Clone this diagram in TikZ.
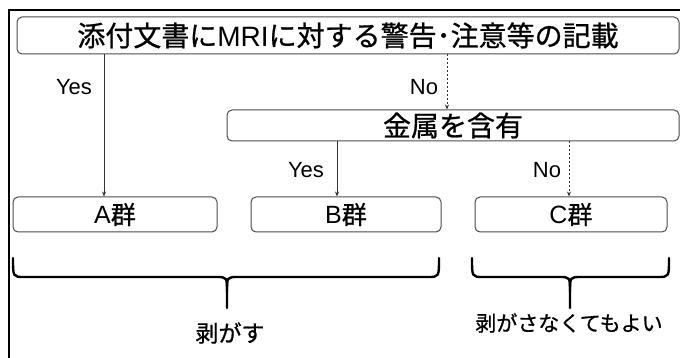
\documentclass[tikz,border=0pt]{standalone}
\usepackage{fontspec}
\setmainfont{Liberation Sans}
\newfontfamily\cjk[FakeBold=0.8]{Noto Sans CJK JP}
\usetikzlibrary{arrows.meta}
\tikzset{
  box/.style={draw=black!70, line width=1pt, rounded corners=5pt, inner sep=0pt},
  yesline/.style={draw=black!80, line width=0.9pt, -{Stealth[length=5pt,width=4pt]}},
  noline/.style={draw=black!80, line width=0.9pt, dash pattern=on 2pt off 2pt, -{Stealth[length=5pt,width=4pt]}},
  lab/.style={font=\fontsize{22}{24}\selectfont, inner sep=0pt},
  brace/.style={draw=black, line width=2.4pt, line cap=round, line join=round},
}
\begin{document}
\begin{tikzpicture}[x=1pt,y=-1pt]
\useasboundingbox (0,0) rectangle (680,358);
\clip (0,0) rectangle (680,358);
\fill[white] (0,0) rectangle (680,358);
% outer frame
\draw[line width=2.2pt] (9,362) -- (9,10) -- (684,10);
% boxes
\node[box, minimum width=662pt, minimum height=37pt] (top) at (348,35.5)
  {\fontsize{28}{30}\selectfont{\cjk 添付文書に}MRI{\cjk に対する警告･注意等の記載}};
\node[box, minimum width=452pt, minimum height=31pt] (kin) at (453,125.5)
  {\raisebox{-3.5pt}{\fontsize{28}{30}\selectfont\cjk 金属を含有}};
\node[box, minimum width=204pt, minimum height=35pt] (A) at (115,214.5)
  {\fontsize{25}{27}\selectfont A{\cjk 群}};
\node[box, minimum width=190pt, minimum height=35pt] (B) at (346,214.5)
  {\fontsize{25}{27}\selectfont B{\cjk 群}};
\node[box, minimum width=192pt, minimum height=35pt] (C) at (571,214.5)
  {\fontsize{25}{27}\selectfont C{\cjk 群}};
% connector x positions
\coordinate (xa) at (104,0);
\coordinate (xn) at (447,0);
\coordinate (xb) at (337,0);
\coordinate (xc) at (569,0);
\draw[yesline] (top.south -| xa) -- (A.north -| xa);
\draw[noline] (top.south -| xn) -- (kin.north -| xn);
\draw[yesline] (kin.south -| xb) -- (B.north -| xb);
\draw[noline] (kin.south -| xc) -- (C.north -| xc);
% labels
\node[lab] (y1) at (74,87) {Yes};
\node[lab] (n1) at (424,87) {No};
\node[lab] (y2) at (306,170) {Yes};
\node[lab] (n2) at (547,170) {No};
% braces
\draw[brace] (13,258) .. controls (13,277) .. (24,277) -- (216,277) .. controls (227,277) .. (227,292) -- (227,308);
\draw[brace] (439,258) .. controls (439,277) .. (428,277) -- (238,277) .. controls (227,277) .. (227,292);
\draw[brace] (472,258) .. controls (472,277) .. (483,277) -- (559,277) .. controls (570,277) .. (570,292) -- (570,308);
\draw[brace] (669,258) .. controls (669,277) .. (658,277) -- (581,277) .. controls (570,277) .. (570,292);
\node[inner sep=0pt, font=\fontsize{23}{25}\selectfont\cjk] (peel) at (230,333) {剥がす};
\node[inner sep=0pt, font=\fontsize{21}{23}\selectfont\cjk] (nopeel) at (569,323) {剥がさなくてもよい};
\end{tikzpicture}
\end{document}
